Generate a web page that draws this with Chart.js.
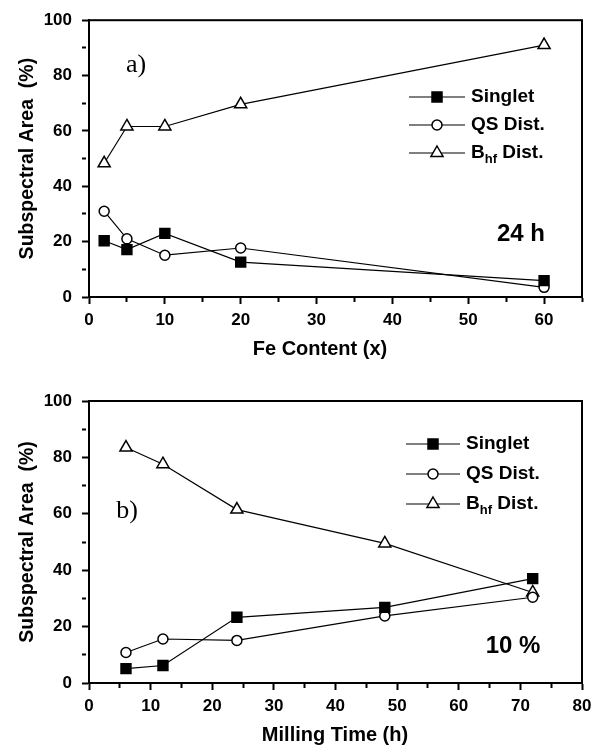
<!DOCTYPE html>
<html lang="en">
<head>
<meta charset="UTF-8">
<title>Subspectral Area</title>
<script src="https://cdn.jsdelivr.net/npm/chart.js@4"></script>
<style>
  * { margin: 0; padding: 0; box-sizing: border-box; }
  body { width: 602px; height: 748px; background: #fff; overflow: hidden; }
  canvas { display: block; }
</style>
</head>
<body>
<canvas id="chartA" width="602" height="374"></canvas>
<canvas id="chartB" width="602" height="374"></canvas>
<script>
// a) 24 h milling, vs Fe content
const feContent = [2, 5, 10, 20, 60];
const singletA = [20.3, 17.1, 23.0, 12.6, 5.9];
const qsA = [31.0, 21.0, 15.1, 17.7, 3.5];
const bhfA = [48.3, 61.6, 61.6, 69.6, 91.0];

// b) 10 % Fe, vs milling time
const millingTime = [6, 12, 24, 48, 72];
const singletB = [5.1, 6.2, 23.3, 26.8, 37.0];
const qsB = [10.8, 15.6, 15.1, 23.8, 30.4];
const bhfB = [83.5, 77.6, 61.5, 49.5, 32.1];

const seriesNames = ['Singlet', 'QS Dist.', 'B_hf Dist.'];

const SANS = "'Liberation Sans', Arial, sans-serif";
const SERIF = "'Liberation Serif', 'Times New Roman', serif";

Chart.defaults.color = '#000';
Chart.defaults.font.family = SANS;

const styles = [
  { pointStyle: 'rect', pointRadius: 7, pointBackgroundColor: '#000' },
  { pointStyle: 'circle', pointRadius: 5, pointBackgroundColor: '#fff' },
  { pointStyle: 'triangle', pointRadius: 7, pointBackgroundColor: '#fff' }
];

function makeDatasets(xs, lists) {
  return lists.map((ys, i) => ({
    label: seriesNames[i],
    data: xs.map((x, j) => ({ x: x, y: ys[j] })),
    borderColor: '#000',
    borderWidth: 1.2,
    pointBorderColor: '#000',
    pointBorderWidth: 1.5,
    pointHoverRadius: styles[i].pointRadius,
    tension: 0,
    ...styles[i]
  }));
}

function drawMarker(ctx, style, x, y) {
  ctx.save();
  ctx.lineWidth = 1.5;
  ctx.strokeStyle = '#000';
  ctx.beginPath();
  if (style === 'rect') {
    const s = 5;
    ctx.rect(x - s, y - s, 2 * s, 2 * s);
    ctx.fillStyle = '#000';
  } else if (style === 'circle') {
    ctx.arc(x, y, 5, 0, Math.PI * 2);
    ctx.fillStyle = '#fff';
  } else {
    ctx.moveTo(x, y - 7);
    ctx.lineTo(x + 6.06, y + 3.5);
    ctx.lineTo(x - 6.06, y + 3.5);
    ctx.closePath();
    ctx.fillStyle = '#fff';
  }
  ctx.fill();
  ctx.stroke();
  ctx.restore();
}

// frame, panel letter, note, x title and legend
function makeExtras(cfg) {
  return {
    id: 'extras',
    afterDraw(chart) {
      const ctx = chart.ctx;
      const a = chart.chartArea;
      ctx.save();
      ctx.strokeStyle = '#000';
      ctx.lineWidth = 2;
      ctx.strokeRect(a.left, a.top, a.right - a.left, a.bottom - a.top);

      ctx.fillStyle = '#000';
      ctx.textAlign = 'center';
      ctx.textBaseline = 'middle';
      ctx.font = '26px ' + SERIF;
      ctx.fillText(cfg.panel, cfg.panelPos[0], cfg.panelPos[1]);

      ctx.font = 'bold 24px ' + SANS;
      ctx.fillText(cfg.note, cfg.notePos[0], cfg.notePos[1]);

      ctx.font = 'bold 20px ' + SANS;
      ctx.fillText(cfg.xTitle, cfg.xTitlePos[0], cfg.xTitlePos[1]);

      // legend
      const [x1, x2] = cfg.legendX;
      chart.data.datasets.forEach((ds, i) => {
        const y = cfg.legendRows[i];
        ctx.lineWidth = 1.2;
        ctx.beginPath();
        ctx.moveTo(x1, y);
        ctx.lineTo(x2, y);
        ctx.stroke();
        drawMarker(ctx, ds.pointStyle, (x1 + x2) / 2, y);

        ctx.fillStyle = '#000';
        ctx.textAlign = 'left';
        ctx.textBaseline = 'middle';
        let tx = x2 + 6;
        const name = ds.label;
        if (name.indexOf('_') > 0) {
          const base = name.split('_')[0];
          const rest = name.split('_')[1].split(' ');
          const sub = rest.shift();
          ctx.font = 'bold 19px ' + SANS;
          ctx.fillText(base, tx, y);
          tx += ctx.measureText(base).width;
          ctx.font = 'bold 13px ' + SANS;
          ctx.fillText(sub, tx, y + 6);
          tx += ctx.measureText(sub).width;
          ctx.font = 'bold 19px ' + SANS;
          ctx.fillText(' ' + rest.join(' '), tx, y);
        } else {
          ctx.font = 'bold 19px ' + SANS;
          ctx.fillText(name, tx, y);
        }
      });
      ctx.restore();
    }
  };
}

function axes(xMax, xStep, yFit, xFit) {
  const tickGrid = (major) => ({
    display: true,
    drawOnChartArea: false,
    drawTicks: true,
    tickLength: 7,
    tickColor: '#000',
    tickWidth: 2,
    tickBorderDash: ctx => (ctx.tick && ctx.tick.value % major !== 0) ? [4, 20] : []
  });
  return {
    x: {
      type: 'linear',
      min: 0,
      max: xMax,
      afterFit: s => { s.height = xFit; },
      border: { display: true, color: '#000', width: 2 },
      grid: tickGrid(xStep * 2),
      ticks: {
        stepSize: xStep,
        padding: 6,
        maxRotation: 0,
        autoSkip: false,
        font: { size: 17, weight: 'bold' },
        callback: v => (v % (xStep * 2) === 0 ? v : '')
      }
    },
    y: {
      min: 0,
      max: 100,
      afterFit: s => { s.width = yFit; },
      border: { display: true, color: '#000', width: 2 },
      grid: tickGrid(20),
      title: {
        display: true,
        text: 'Subspectral Area  (%)',
        font: { size: 19.5, weight: 'bold' },
        padding: { top: 16, bottom: 0 }
      },
      ticks: {
        stepSize: 10,
        padding: 10,
        autoSkip: false,
        font: { size: 17, weight: 'bold' },
        callback: v => (v % 20 === 0 ? v : '')
      }
    }
  };
}

function commonOptions(padTop, xMax, xStep, xFit) {
  return {
    responsive: false,
    animation: false,
    layout: { padding: { top: padTop, right: 20, bottom: 0, left: 0 } },
    plugins: { legend: { display: false }, tooltip: { enabled: false } },
    scales: axes(xMax, xStep, 89, xFit)
  };
}

new Chart(document.getElementById('chartA'), {
  type: 'line',
  data: { datasets: makeDatasets(feContent, [singletA, qsA, bhfA]) },
  options: commonOptions(14, 65, 5, 77),
  plugins: [makeExtras({
    panel: 'a)', panelPos: [136, 65],
    note: '24 h', notePos: [521, 234],
    xTitle: 'Fe Content (x)', xTitlePos: [320, 349],
    legendRows: [97, 125, 153], legendX: [409, 465]
  })]
});

new Chart(document.getElementById('chartB'), {
  type: 'line',
  data: { datasets: makeDatasets(millingTime, [singletB, qsB, bhfB]) },
  options: commonOptions(27, 80, 5, 65),
  plugins: [makeExtras({
    panel: 'b)', panelPos: [127, 137],
    note: '10 %', notePos: [513, 272],
    xTitle: 'Milling Time (h)', xTitlePos: [335, 361],
    legendRows: [70, 100, 130], legendX: [406, 460]
  })]
});
</script>
</body>
</html>
